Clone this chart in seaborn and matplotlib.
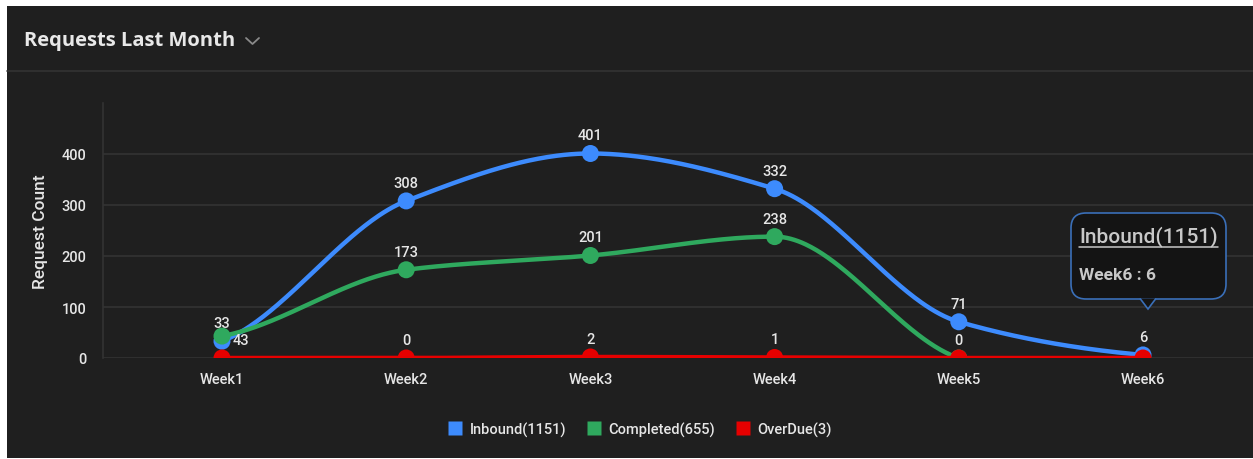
import numpy as np
import pandas as pd
import matplotlib
matplotlib.use("Agg")
import matplotlib.pyplot as plt
import seaborn as sns
from matplotlib.patches import Rectangle, FancyBboxPatch, Polygon
from matplotlib.lines import Line2D

weeks = ["Week1", "Week2", "Week3", "Week4", "Week5", "Week6"]
inbound = [33, 308, 401, 332, 71, 6]
completed = [43, 173, 201, 238, 0, np.nan]
overdue = [0, 0, 2, 1, 0, 0]
series_names = ["Inbound(1151)", "Completed(655)", "OverDue(3)"]
y_ticks = [0, 100, 200, 300, 400]
tooltip_title = "Inbound(1151)"
tooltip_body = "Week6 : 6"

BG = "#1f1f1f"
GRID = "#333333"
TXT = "#e6e6e6"
colors = ["#3d8bfd", "#2fa95e", "#e60000"]

sns.set_theme(style="dark")
plt.rcParams["font.family"] = ["Roboto", "DejaVu Sans"]

W, H = 1253, 460
fig = plt.figure(figsize=(W / 100, H / 100), dpi=100, facecolor="white")

def fx(px):
    return px / W

def fy(py):
    return 1 - py / H

# dark panel
fig.patches.append(Rectangle((fx(7), fy(459)), fx(1253 - 7), (459 - 7) / H,
                             transform=fig.transFigure, facecolor=BG, edgecolor="none", zorder=-10))
# separator line under title
fig.add_artist(Line2D([fx(7), 1], [fy(72), fy(72)], transform=fig.transFigure, color="#333333",
                      lw=1.2, zorder=-5))
fig.text(fx(24), fy(41), "Requests Last Month", fontsize=14.5, color="#e8e8e8",
         fontfamily="Open Sans", fontweight="bold", va="center", ha="left")
# chevron
fig.add_artist(Line2D([fx(246), fx(252.5), fx(259)], [fy(39), fy(45), fy(39)],
                      transform=fig.transFigure, color="#8a8a8a", lw=1.3))

ax_left, ax_right = 103, 1253
ax_top, ax_bot = 104, 359
ax = fig.add_axes([fx(ax_left), fy(ax_bot), (ax_right - ax_left) / W, (ax_bot - ax_top) / H])
ax.set_facecolor("none")
ax.set_zorder(1)

x0_px, dx_px = 222, 184.2
xmin = (ax_left - x0_px) / dx_px
xmax = (ax_right - x0_px) / dx_px
ax.set_xlim(xmin, xmax)
ax.set_ylim(0, 500)


def pchip(x, y, xs):
    x = np.asarray(x, float)
    y = np.asarray(y, float)
    h = np.diff(x)
    d = np.diff(y) / h
    n = len(x)
    m = np.zeros(n)
    for k in range(1, n - 1):
        if d[k - 1] * d[k] <= 0:
            m[k] = 0
        else:
            w1 = 2 * h[k] + h[k - 1]
            w2 = h[k] + 2 * h[k - 1]
            m[k] = (w1 + w2) / (w1 / d[k - 1] + w2 / d[k])
    m[0] = d[0] * 0.5
    m[-1] = d[-1] * 0.5
    ys = np.empty_like(xs)
    for i, xv in enumerate(xs):
        k = min(max(np.searchsorted(x, xv) - 1, 0), n - 2)
        t = (xv - x[k]) / h[k]
        h00 = 2 * t**3 - 3 * t**2 + 1
        h10 = t**3 - 2 * t**2 + t
        h01 = -2 * t**3 + 3 * t**2
        h11 = t**3 - t**2
        ys[i] = h00 * y[k] + h10 * h[k] * m[k] + h01 * y[k + 1] + h11 * h[k] * m[k + 1]
    return ys


all_series = [inbound, completed, overdue]
for i, (vals, name, c) in enumerate(zip(all_series, series_names, colors)):
    v = np.asarray(vals, float)
    xi = np.arange(len(v))[~np.isnan(v)]
    yi = v[~np.isnan(v)]
    xs = np.linspace(xi[0], xi[-1], 400)
    ax.plot(xs, pchip(xi, yi, xs), color=c, lw=3.2, zorder=3 + i, solid_capstyle="round")
    df = pd.DataFrame({"x": xi, "y": yi})
    sns.scatterplot(data=df, x="x", y="y", ax=ax, color=c, s=150, edgecolor="none",
                    zorder=4 + i, clip_on=True, legend=False)

# data labels
LFS = 10.5
lab_kw = dict(fontsize=LFS, color=TXT, fontweight="medium", ha="center", va="bottom", zorder=10)
for k, v in enumerate(inbound):
    ax.annotate(str(v), (k, v), xytext=(0, 8), textcoords="offset points", **lab_kw)
for k, v in enumerate(completed):
    if np.isnan(v) or k >= 4:
        continue
    if k == 0:
        ax.annotate(str(int(v)), (k, v), xytext=(8, -3), textcoords="offset points",
                    **{**lab_kw, "ha": "left", "va": "center"})
    else:
        ax.annotate(str(int(v)), (k, v), xytext=(0, 8), textcoords="offset points", **lab_kw)
for k, v in enumerate(overdue):
    if k in (0, 5):
        continue
    ax.annotate(str(v), (k, v), xytext=(0, 8), textcoords="offset points", **lab_kw)

ax.set_xticks(range(len(weeks)))
ax.set_xticklabels(weeks, fontsize=10.5, color=TXT, fontweight="medium")
ax.set_yticks(y_ticks)
ax.set_yticklabels([str(t) for t in y_ticks], fontsize=10.5, color=TXT, fontweight="medium")
ax.tick_params(axis="x", length=3, color="#555555", pad=7)
ax.tick_params(axis="y", length=0, pad=12)
ax.set_xlabel("")
ax.set_ylabel("Request Count", fontsize=12.5, color=TXT, fontweight="medium", labelpad=10)
ax.grid(axis="y", color=GRID, lw=1.2)
ax.grid(axis="x", visible=False)
for s in ["top", "right", "bottom"]:
    ax.spines[s].set_visible(False)
ax.spines["left"].set_visible(True)
ax.spines["left"].set_color(GRID)
ax.spines["left"].set_linewidth(1.2)

# legend
handles = [Line2D([], [], marker="s", linestyle="none", markersize=10, markerfacecolor=c,
                  markeredgecolor="none") for c in colors]
leg = fig.legend(handles, series_names, loc="center", bbox_to_anchor=(fx(640), fy(430)),
                 ncol=3, frameon=False, fontsize=10.5, handletextpad=0.5, columnspacing=1.4,
                 handlelength=1.0)
for t in leg.get_texts():
    t.set_color(TXT)
    t.set_fontweight("medium")

# tooltip
bx0, by0, bx1, by1 = 1071, 214, 1226, 300
fig.patches.append(FancyBboxPatch((fx(bx0), fy(by1)), fx(bx1 - bx0), (by1 - by0) / H,
                                  boxstyle="round,pad=0,rounding_size=0.012",
                                  transform=fig.transFigure, facecolor="#141414",
                                  edgecolor="#3a6fb8", lw=1.2, zorder=20,
                                  mutation_aspect=W / H))
fig.patches.append(Polygon([[fx(1140), fy(299.4)], [fx(1148), fy(310)], [fx(1156), fy(299.4)]],
                           closed=False, transform=fig.transFigure, facecolor="#141414",
                           edgecolor="#3a6fb8", lw=1.2, zorder=21))
t1 = fig.text(fx(1079), fy(237), tooltip_title, fontsize=15, color="#c8c8c8", fontweight="medium",
              ha="left", va="center", zorder=22)
fig.text(fx(1079), fy(275), tooltip_body, fontsize=12.5, color="#c8c8c8", fontweight="bold",
         ha="left", va="center", zorder=22)
fig.canvas.draw()
bb = t1.get_window_extent(fig.canvas.get_renderer())
fig.add_artist(Line2D([bb.x0 / W, bb.x1 / W], [fy(248), fy(248)], transform=fig.transFigure,
                      color="#c8c8c8", lw=1.1, zorder=22))

fig.savefig("out.png", dpi=100, facecolor="white")
